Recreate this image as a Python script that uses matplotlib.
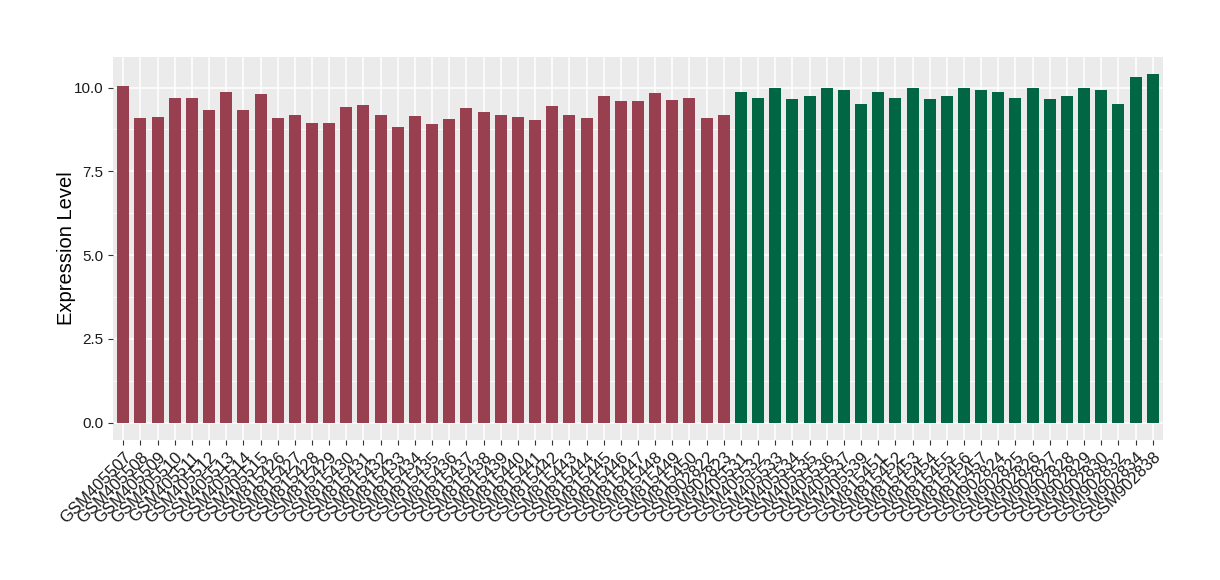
import matplotlib
matplotlib.use("Agg")
import matplotlib.pyplot as plt
from matplotlib.ticker import MultipleLocator

samples = [
    "GSM405507", "GSM405508", "GSM405509", "GSM405510", "GSM405511", "GSM405512",
    "GSM405513", "GSM405514", "GSM405515",
    "GSM815426", "GSM815427", "GSM815428", "GSM815429", "GSM815430", "GSM815431",
    "GSM815432", "GSM815433", "GSM815434", "GSM815435", "GSM815436", "GSM815437",
    "GSM815438", "GSM815439", "GSM815440", "GSM815441", "GSM815442", "GSM815443",
    "GSM815444", "GSM815445", "GSM815446", "GSM815447", "GSM815448", "GSM815449",
    "GSM815450", "GSM902822", "GSM902823",
    "GSM405531", "GSM405532", "GSM405533", "GSM405534", "GSM405535", "GSM405536",
    "GSM405537", "GSM405539",
    "GSM815451", "GSM815452", "GSM815453", "GSM815454", "GSM815455", "GSM815456",
    "GSM815457",
    "GSM902824", "GSM902825", "GSM902826", "GSM902827", "GSM902828", "GSM902829",
    "GSM902830", "GSM902832", "GSM902834", "GSM902838",
]

values = [
    10.04, 9.08, 9.11, 9.70, 9.70, 9.34, 9.88, 9.34, 9.82,
    9.08, 9.17, 8.93, 8.93, 9.43, 9.49, 9.17, 8.81, 9.14, 8.90, 9.05, 9.40,
    9.28, 9.17, 9.11, 9.02, 9.46, 9.17, 9.08, 9.76, 9.61, 9.61, 9.85, 9.64,
    9.70, 9.08, 9.17,
    9.88, 9.70, 10.00, 9.67, 9.76, 10.00, 9.94, 9.50,
    9.88, 9.70, 10.00, 9.67, 9.76, 10.00, 9.94,
    9.88, 9.70, 10.00, 9.67, 9.76, 10.00, 9.94, 9.50, 10.30, 10.39,
]

groups = ["A"] * 36 + ["B"] * 25
group_colors = {"A": "#994050", "B": "#006644"}

fig = plt.figure(figsize=(12.2, 5.8), dpi=100)
ax = fig.add_axes([0.0926, 0.2414, 0.8607, 0.6603])
ax.set_facecolor("#EBEBEB")

x = list(range(len(samples)))
ax.bar(x, values, width=0.7, color=[group_colors[g] for g in groups], zorder=3)

ax.set_xlim(-0.6, len(samples) - 0.4)
ax.set_ylim(-0.52, 10.91)
ax.yaxis.set_major_locator(MultipleLocator(2.5))
ax.yaxis.set_minor_locator(MultipleLocator(1.25))
ax.set_yticks([0, 2.5, 5.0, 7.5, 10.0])
ax.set_yticklabels(["0.0", "2.5", "5.0", "7.5", "10.0"])

ax.grid(which="major", color="white", linewidth=1.1, zorder=0)
ax.grid(which="minor", axis="y", color="white", linewidth=0.55, zorder=0)
ax.set_axisbelow(True)

ax.set_xticks(x)
ax.set_xticklabels(samples, rotation=45, ha="right", va="top",
                   rotation_mode="anchor", fontsize=12,
                   family="Liberation Sans", color="#1a1a1a")
for lbl in ax.get_yticklabels():
    lbl.set_fontsize(11)
    lbl.set_family("Liberation Sans")
    lbl.set_color("#1a1a1a")

ax.tick_params(axis="both", which="major", length=3.5, width=0.8, color="#333333")
ax.tick_params(axis="y", which="minor", length=0)
ax.tick_params(axis="x", pad=3)

for s in ax.spines.values():
    s.set_visible(False)

ax.set_ylabel("Expression Level", fontsize=14.5, family="Liberation Sans", labelpad=-2)

fig.savefig("out.png", dpi=100)
